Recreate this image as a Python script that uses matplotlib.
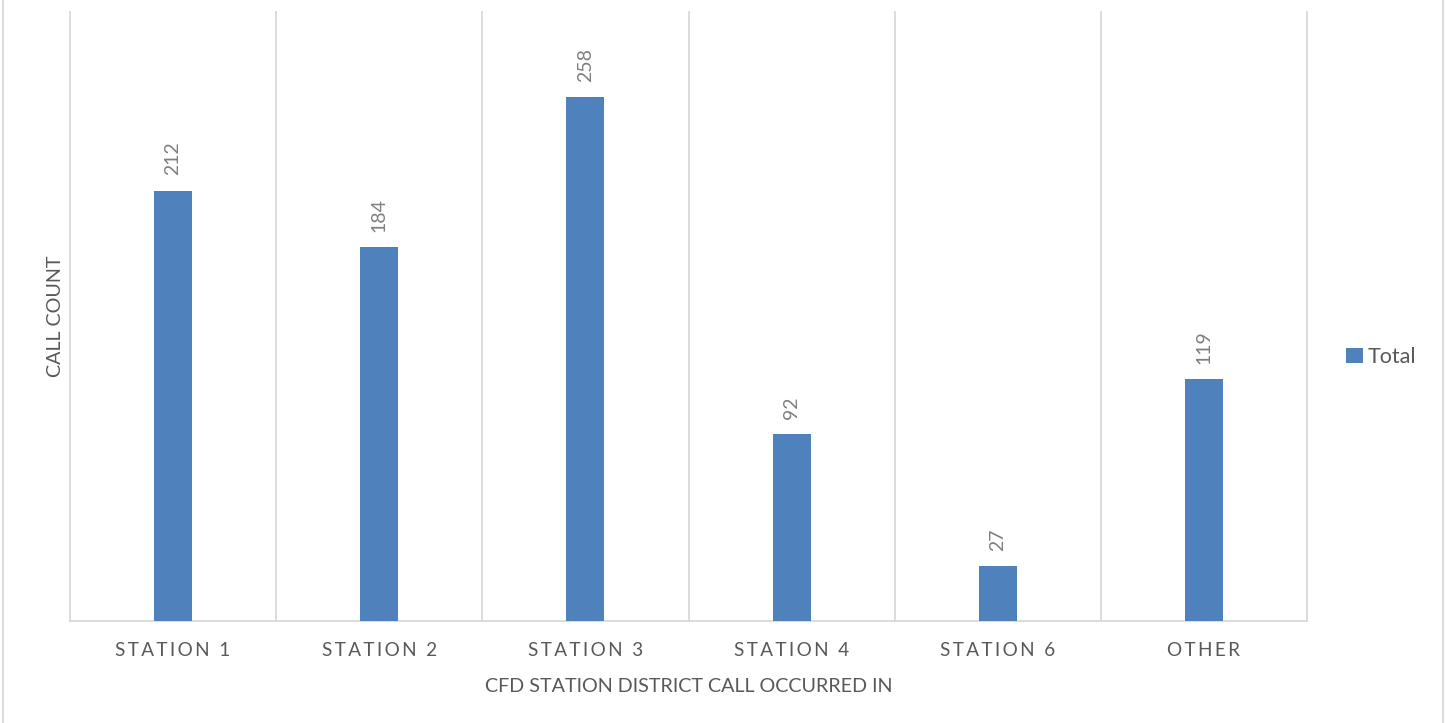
import numpy as np
import matplotlib.pyplot as plt
from matplotlib.patches import Rectangle

plt.rcParams['font.family'] = ['Lato', 'DejaVu Sans']

stations = ['STATION 1', 'STATION 2', 'STATION 3', 'STATION 4', 'STATION 6', 'OTHER']
counts = [212, 184, 258, 92, 27, 119]

BLUE = '#4F81BD'
GRID = '#D9D9D9'
TXT = '#595959'


def spaced(s):
    # fake Excel's letter spacing with thin spaces
    return '\u2009'.join(s)


fig = plt.figure(figsize=(14.45, 7.23), dpi=100)
ax = fig.add_axes([70 / 1445, 102 / 723, (1307 - 70) / 1445, (621 - 12) / 723])

x = np.arange(len(stations))
bars = ax.bar(x, counts, width=0.185, color=BLUE, label='Total', zorder=3)

for xi, v in zip(x, counts):
    ax.annotate(str(v), (xi, v), xytext=(0, 11), textcoords='offset points',
                rotation=90, ha='center', va='bottom', fontsize=14, color='#7F7F7F')

ax.set_xlim(-0.5, len(stations) - 0.5)
ax.set_ylim(0, 300)
ax.set_yticks([])

# category separators
for b in np.arange(-0.5, len(stations), 1.0):
    ax.axvline(b, color=GRID, lw=1.3, zorder=1, clip_on=False)

ax.set_xticks(x)
ax.set_xticklabels([spaced(s) for s in stations], fontsize=13.6, color=TXT)
ax.tick_params(axis='x', length=0, pad=15)

for side in ['top', 'right', 'left']:
    ax.spines[side].set_visible(False)
ax.spines['bottom'].set_color(GRID)
ax.spines['bottom'].set_linewidth(1.3)

ax.set_xlabel('CFD STATION DISTRICT CALL OCCURRED IN', fontsize=14.2, color=TXT, labelpad=14)
ax.set_ylabel('CALL COUNT', fontsize=14.2, color=TXT, labelpad=4)

fig.legend(handles=[bars], labels=['Total'], loc='center left',
           bbox_to_anchor=(1327 / 1445, 1 - 357 / 723), frameon=False,
           fontsize=15.5, handlelength=0.75, handleheight=0.75, handletextpad=0.25,
           labelcolor=TXT)

# outer chart border
fig.patches.append(Rectangle((3 / 1445, -0.01), 1440 / 1445, 1.02, transform=fig.transFigure,
                             fill=False, edgecolor=GRID, lw=1.3))

fig.savefig('out.png', dpi=100)
